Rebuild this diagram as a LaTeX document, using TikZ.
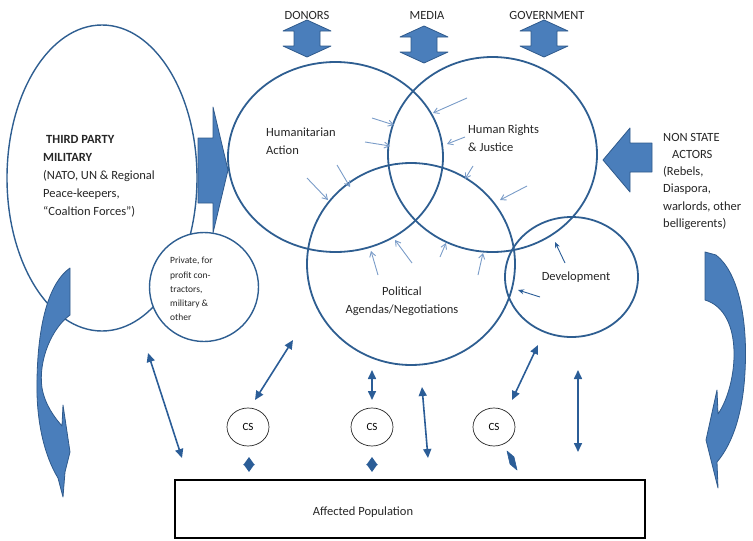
\documentclass[tikz,border=0pt]{standalone}
\usepackage{fontspec}
\setmainfont{Carlito}
\usetikzlibrary{positioning, arrows.meta, shapes.geometric}
\definecolor{Ring}{HTML}{2E5E91}
\definecolor{Fill}{HTML}{4A7EBB}
\definecolor{Edge}{HTML}{2F5A8C}
\definecolor{Thin}{HTML}{7A9CC8}
\definecolor{Mid}{HTML}{2B5D97}
\definecolor{Ink}{HTML}{262626}
\tikzset{
    ring/.style={ellipse, draw=Ring, line width=1.8pt, inner sep=0pt},
    blockarrow/.style={fill=Fill, draw=Edge, line width=0.8pt, line join=round},
    thinarrow/.style={-{Straight Barb[length=5pt,width=6pt]}, draw=Thin, line width=0.9pt},
    devarrow/.style={-{Stealth[length=6pt,width=5pt]}, draw=Mid, line width=0.9pt},
    midarrow/.style={{Triangle[length=9pt,width=8pt]}-{Triangle[length=9pt,width=8pt]}, draw=Mid, line width=1.6pt},
    tinyarrow/.style={{Triangle[length=8pt,width=11pt]}-{Triangle[length=8pt,width=11pt]}, draw=Mid, line width=1.6pt},
    csnode/.style={ellipse, draw=Ink, line width=0.7pt, minimum width=42pt, minimum height=38pt, inner sep=0pt, font=\fontsize{11}{13}\selectfont},
    lbl/.style={font=\fontsize{12.5}{18}\selectfont, text=Ink, inner sep=0pt, align=left},
}
\begin{document}
\begin{tikzpicture}[x=1pt, y=-1pt]
        \useasboundingbox (0,0) rectangle (753,541);

        % --- Third party military ---
        \node[ellipse, draw=Ring, line width=1.4pt, minimum width=190, minimum height=306, inner sep=0pt] (tpm) at (102,178) {};
        \filldraw[blockarrow] (198,138) -- (213,138) -- (213,107) -- (228,170) -- (213,233) -- (213,203) -- (198,203) -- cycle;
        \node[circle, draw=Ring, fill=white, line width=1.4pt, minimum size=109, inner sep=0pt] (pmc) at (204,287) {};
        \filldraw[blockarrow] (70,268) -- (70,315) .. controls (52,328) and (38,360) .. (42,388) .. controls (45,405) and (55,418) .. (62,426) -- (63,405) -- (70,452) -- (65,472) -- (63,497) -- (58,478) .. controls (44,455) and (36,420) .. (37,380) .. controls (38,320) and (50,282) .. (70,268) -- cycle;

        % --- Main circles ---
        \node[ring, minimum width=215, minimum height=190] (hum) at (335.5,157) {};
        \node[ring, minimum width=209, minimum height=195] (hrj) at (492.5,154.5) {};
        \node[ring, minimum width=208, minimum height=202] (pol) at (411,264) {};
        \node[ring, minimum width=133, minimum height=120] (dev) at (571.5,277) {};

        % --- Block arrows top and right ---
        \foreach \cx/\ty in {307/20, 424/26, 544/20}
            \filldraw[blockarrow] (\cx,\ty) -- ++(24,11) -- ++(-11,0) -- ++(0,15) -- ++(11,0) -- ++(-24,11) -- ++(-24,-11) -- ++(11,0) -- ++(0,-15) -- ++(-11,0) -- cycle;
        \filldraw[blockarrow] (652,143) -- (630,143) -- (630,128) -- (603,160) -- (630,192) -- (630,172) -- (652,172) -- cycle;
        \filldraw[blockarrow] (705,252) -- (716,255) .. controls (738,272) and (748,318) .. (745,372) .. controls (743,410) and (734,442) .. (717,462) -- (718,488) -- (706,440) -- (717,390) -- (718,414) .. controls (738,385) and (745,312) .. (705,300) -- cycle;

        % --- Thin arrows into the circles ---
        \foreach \ax/\ay/\bx/\by in {467/98/433/113, 372/118/394/125, 365/142/390/146, 465/137/447/144,
                                     337/165/350/187, 307/178/328/200, 473/166/465/179, 527/186/500/200,
                                     378/275/371/251, 412/263/395/240, 440/257/446/243, 478/275/483/253}
            \draw[thinarrow] (\ax,\ay) -- (\bx,\by);
        \draw[devarrow] (565,263) -- (555,242);
        \draw[devarrow] (540,297) -- (518,290);

        % --- Civil society and affected population ---
        \node[csnode] (cs1) at (248,427) {CS};
        \node[csnode] (cs2) at (372,427) {CS};
        \node[csnode] (cs3) at (494,427) {CS};
        \node[draw=black, line width=1.8pt, minimum width=470, minimum height=58, inner sep=0pt] (afp) at (410,509) {};
        \node[lbl] (afptxt) at (363,512) {Affected Population};

        \foreach \ax/\ay/\bx/\by in {148/353/182/458, 293/340/255/400, 372/370/372/400,
                                     422/387/428/458, 538/345/512/400, 578/370/578/452}
            \draw[midarrow] (\ax,\ay) -- (\bx,\by);
        \foreach \ax/\ay/\bx/\by in {249/457/249/472, 372/457/372/472}
            \draw[tinyarrow] (\ax,\ay) -- (\bx,\by);
        \filldraw[fill=Mid, draw=Mid, line width=0.6pt, line join=round] (507,451) -- (514,457) -- (517,470) -- (510,464) -- cycle;

        % --- Labels ---
        \node[lbl] (don) at (307,15) {DONORS};
        \node[lbl] (med) at (427,15) {MEDIA};
        \node[lbl] (gov) at (547,15) {GOVERNMENT};
        \node[lbl, anchor=north west] (humtxt) at (266,128) {Humanitarian\\Action};
        \node[lbl, anchor=north west] (hrjtxt) at (468,125) {Human Rights\\\& Justice};
        \node[lbl, anchor=north, align=center] (poltxt) at (402,287) {Political\\Agendas/Negotiations};
        \node[lbl] (devtxt) at (576,277) {Development};
        \node[lbl, anchor=north west] (tpmtxt) at (43,135) {\hspace*{3pt}\textbf{THIRD PARTY}\\\textbf{MILITARY}\\(NATO, UN \& Regional\\Peace-keepers,\\“Coaltion Forces”)};
        \node[lbl, anchor=north west, font=\fontsize{9.5}{14.3}\selectfont] (pmctxt) at (170,257) {Private, for\\profit con-\\tractors,\\military \&\\other};
        \node[lbl, anchor=north west, font=\fontsize{12.5}{17.2}\selectfont] (nsatxt) at (663,133) {NON STATE\\\hspace*{9pt}ACTORS\\(Rebels,\\Diaspora,\\warlords, other\\belligerents)};
\end{tikzpicture}
\end{document}
